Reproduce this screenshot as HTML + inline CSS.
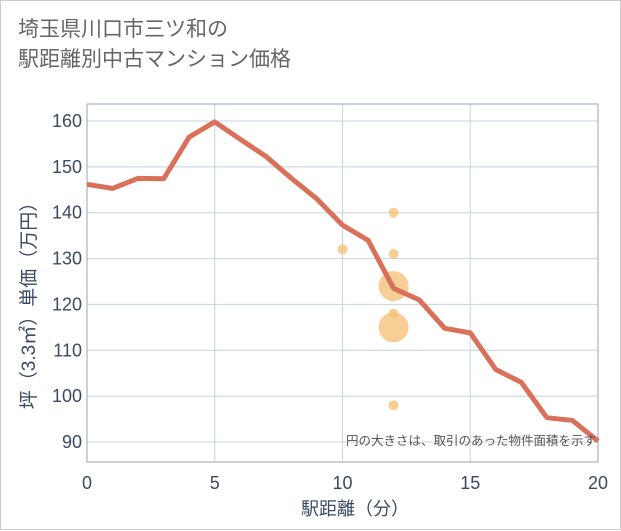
<!DOCTYPE html>
<html><head><meta charset="utf-8"><style>
body{margin:0;background:#fff;}
#wrap{position:relative;width:619px;height:528px;border:1px solid #ccc;background:#fff;font-family:"Liberation Sans","Noto Sans CJK JP",sans-serif;}
#title{position:absolute;left:17px;top:14px;font-size:21px;line-height:30px;color:#666;}
svg{position:absolute;left:0;top:0;}
</style></head><body>
<div id="wrap">
<div id="title">埼玉県川口市三ツ和の<br>駅距離別中古マンション価格</div>
<svg id="c" width="621" height="530"></svg>
</div>
<script>
const lineX=[0,1,2,3,4,5,6,7,8,9,10,11,12,13,14,15,16,17,18,19,20];
const lineY=[146.2,145.3,147.5,147.4,156.5,159.8,156,152.3,147.5,143,137.3,134,123.5,121,114.8,113.8,105.8,103,95.3,94.7,90.2];
const bubX=[10,12,12,12,12,12,12];
const bubY=[132,140,131,124,118,115,98];
const bubR=[5,5,5,15,5,15,5];
const xTicks=[0,5,10,15,20];
const yTicks=[90,100,110,120,130,140,150,160];
const NS="http://www.w3.org/2000/svg";
const svg=document.getElementById('c');
const L=86,R=597,T=103,B=461;
const sx=v=>L+(v-0)/20*(R-L);
const sy=v=>441-(v-90)/70*(441-120);
function mk(t,a){const e=document.createElementNS(NS,t);for(const k in a)e.setAttribute(k,a[k]);svg.appendChild(e);return e;}
xTicks.forEach(v=>{const g=mk('line',{x1:sx(v),x2:sx(v),y1:T,y2:B,stroke:'#c5d3e2','stroke-width':1});


const t=mk('text',{x:sx(v),y:488,'text-anchor':'middle','font-size':18,fill:'#3a4a63'});t.textContent=v;

});
yTicks.forEach(v=>{const g=mk('line',{x1:L,x2:R,y1:sy(v),y2:sy(v),stroke:'#c5d3e2','stroke-width':1});


const t=mk('text',{x:81,y:sy(v)+6,'text-anchor':'end','font-size':18,fill:'#3a4a63'});t.textContent=v;

});
const fr=mk('rect',{x:L,y:T,width:R-L,height:B-T,fill:'none',stroke:'#9aa5b1','stroke-width':1});


bubX.forEach((x,i)=>{const c=mk('circle',{cx:sx(x),cy:sy(bubY[i]),r:bubR[i],fill:'#f5c27a','fill-opacity':0.8});

});
const p=mk('polyline',{points:lineX.map((x,i)=>sx(x)+','+sy(lineY[i])).join(' '),fill:'none',stroke:'#d9705a','stroke-width':5,'stroke-linejoin':'round'});


const n=mk('text',{x:595,y:444,'text-anchor':'end','font-size':12.5,fill:'#555'});n.textContent='円の大きさは、取引のあった物件面積を示す';


const xt=mk('text',{x:354,y:514,'text-anchor':'middle','font-size':18,fill:'#3a4a63'});xt.textContent='駅距離（分）';


const yt=mk('text',{x:0,y:0,'text-anchor':'middle','font-size':19,fill:'#3a4a63',transform:'translate(34,300) rotate(-90)'});yt.textContent='坪（3.3㎡）単価（万円）';


</script>
</body></html>
